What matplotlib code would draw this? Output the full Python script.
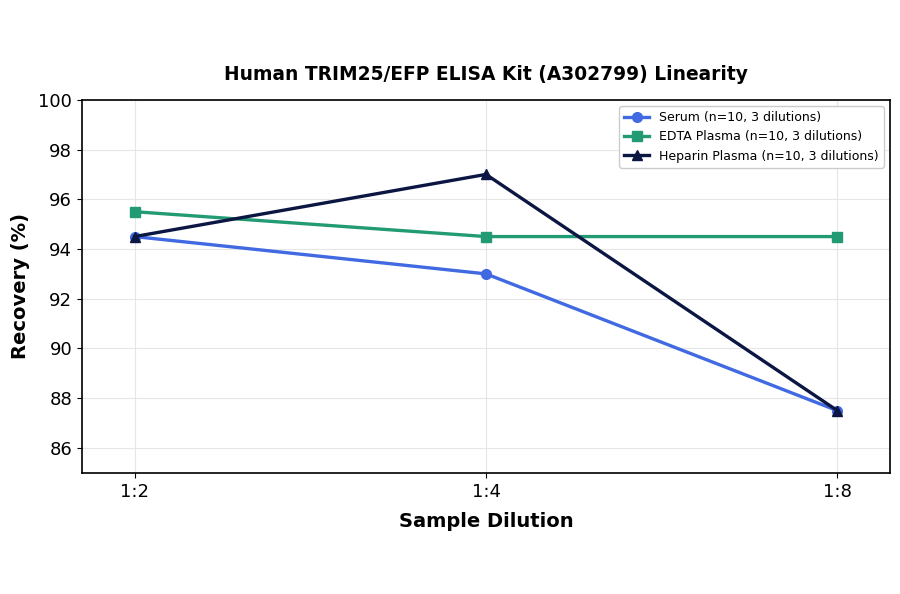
import matplotlib.pyplot as plt

dilutions = ['1:2', '1:4', '1:8']
serum = [94.5, 93.0, 87.5]
edta = [95.5, 94.5, 94.5]
heparin = [94.5, 97.0, 87.5]

fig = plt.figure(figsize=(9, 5.94), dpi=100)
ax = fig.add_axes([0.091, 0.204, 0.898, 0.628])

x = range(len(dilutions))
ax.plot(x, serum, '-o', color='#4169e1', lw=2.4, ms=7, label='Serum (n=10, 3 dilutions)')
ax.plot(x, edta, '-s', color='#229a74', lw=2.4, ms=7, label='EDTA Plasma (n=10, 3 dilutions)')
ax.plot(x, heparin, '-^', color='#0b1642', lw=2.4, ms=7, label='Heparin Plasma (n=10, 3 dilutions)')

ax.set_xticks(list(x))
ax.set_xticklabels(dilutions)
ax.set_xlim(-0.15, 2.15)
ax.set_ylim(85, 100)
ax.set_yticks([86, 88, 90, 92, 94, 96, 98, 100])
ax.tick_params(labelsize=13)
ax.grid(True, color='#e6e6e6', lw=0.8)
ax.set_axisbelow(True)
for s in ax.spines.values():
    s.set_linewidth(1.2)

ax.set_xlabel('Sample Dilution', fontsize=14, fontweight='bold', labelpad=8)
ax.set_ylabel('Recovery (%)', fontsize=14, fontweight='bold', labelpad=6)
ax.set_title('Human TRIM25/EFP ELISA Kit (A302799) Linearity', fontsize=13.4, fontweight='bold', pad=14)
ax.legend(loc='upper right', fontsize=9, framealpha=1)

fig.savefig('out.png', dpi=100)
